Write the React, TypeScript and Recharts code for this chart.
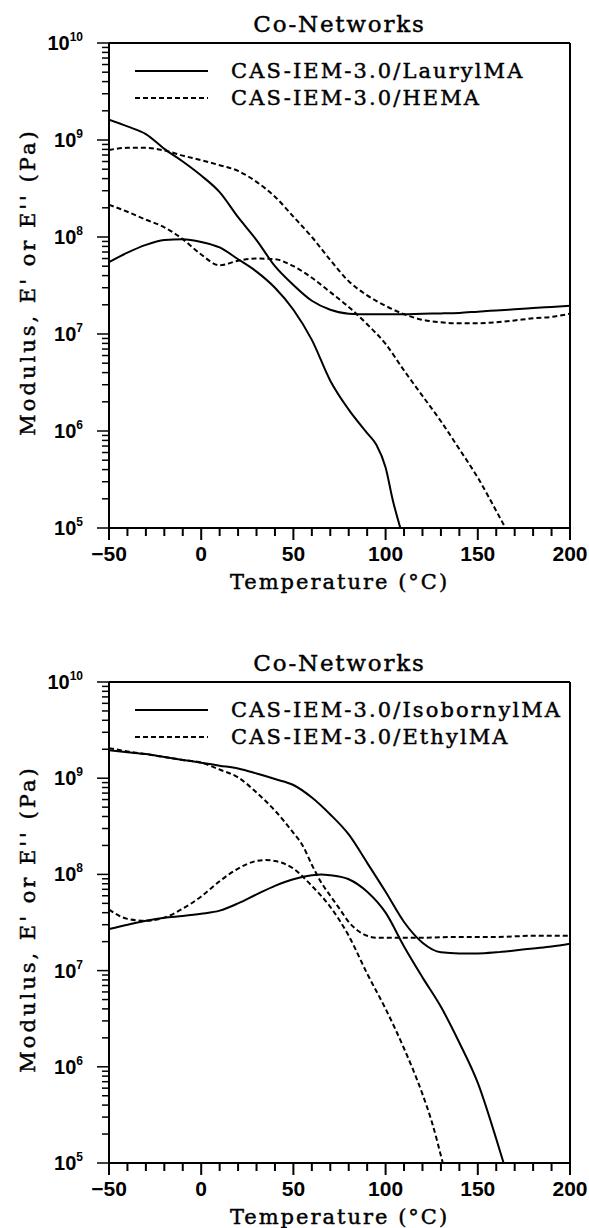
import React from "react";
import { LineChart, Line, XAxis, YAxis, ReferenceLine } from "recharts";

// axis ticks
const TEMP_MAJOR = [-50, 0, 50, 100, 150, 200];
const TEMP_MINOR = [-40, -30, -20, -10, 10, 20, 30, 40, 60, 70, 80, 90, 110, 120, 130, 140, 160, 170, 180, 190];
const DECADES = [1e5, 1e6, 1e7, 1e8, 1e9, 1e10];
const MINOR_STEPS = [2, 3, 4, 5, 6, 7, 8, 9];

// top panel: CAS-IEM-3.0 / LaurylMA (solid) and HEMA (dashed), E' and E''
const laurylStorageT = [-50, -40, -30, -20, -10, 0, 10, 20, 30, 40, 50, 60, 70, 80, 90, 100, 110, 120, 130, 140, 150, 160, 170, 180, 190, 200];
const laurylStorage = [1.62e9, 1.38e9, 1.15e9, 8.1e8, 6.0e8, 4.3e8, 2.9e8, 1.6e8, 9.3e7, 5.0e7, 3.2e7, 2.2e7, 1.78e7, 1.62e7, 1.6e7, 1.6e7, 1.6e7, 1.62e7, 1.63e7, 1.65e7, 1.7e7, 1.75e7, 1.8e7, 1.85e7, 1.9e7, 1.95e7];
const laurylLossT = [-50, -40, -30, -20, -10, 0, 10, 20, 30, 40, 50, 60, 70, 80, 90, 95, 100, 104, 108];
const laurylLoss = [5.5e7, 6.9e7, 8.3e7, 9.3e7, 9.5e7, 8.9e7, 7.8e7, 5.9e7, 4.4e7, 3.0e7, 1.78e7, 8.7e6, 3.3e6, 1.66e6, 9.5e5, 7.2e5, 4.2e5, 1.9e5, 1.0e5];
const hemaStorageT = [-50, -40, -30, -20, -10, 0, 10, 20, 30, 40, 50, 60, 70, 80, 90, 100, 110, 120, 130, 140, 150, 160, 170, 180, 190, 200];
const hemaStorage = [7.9e8, 8.3e8, 8.3e8, 7.8e8, 6.9e8, 6.2e8, 5.5e8, 4.8e8, 3.7e8, 2.6e8, 1.62e8, 1.0e8, 5.8e7, 3.5e7, 2.5e7, 1.95e7, 1.6e7, 1.4e7, 1.32e7, 1.29e7, 1.29e7, 1.32e7, 1.38e7, 1.45e7, 1.5e7, 1.62e7];
const hemaLossT = [-50, -40, -30, -20, -10, 0, 10, 20, 30, 40, 50, 60, 70, 80, 90, 100, 110, 120, 130, 140, 150, 160, 165];
const hemaLoss = [2.15e8, 1.82e8, 1.51e8, 1.26e8, 9.5e7, 6.6e7, 5.1e7, 5.7e7, 6.0e7, 5.9e7, 5.0e7, 3.8e7, 2.7e7, 1.9e7, 1.26e7, 7.9e6, 4.2e6, 2.3e6, 1.26e6, 6.5e5, 3.3e5, 1.5e5, 1.0e5];

// bottom panel: CAS-IEM-3.0 / IsobornylMA (solid) and EthylMA (dashed)
const isoStorageT = [-50, -40, -30, -20, -10, 0, 10, 20, 30, 40, 50, 60, 70, 80, 90, 100, 110, 120, 130, 140, 150, 160, 170, 180, 190, 200];
const isoStorage = [1.95e9, 1.86e9, 1.78e9, 1.66e9, 1.55e9, 1.45e9, 1.35e9, 1.26e9, 1.12e9, 9.8e8, 8.5e8, 6.3e8, 4.2e8, 2.6e8, 1.32e8, 6.6e7, 3.2e7, 1.95e7, 1.55e7, 1.51e7, 1.51e7, 1.55e7, 1.62e7, 1.7e7, 1.78e7, 1.9e7];
const isoLossT = [-50, -40, -30, -20, -10, 0, 10, 20, 30, 40, 50, 60, 65, 70, 80, 90, 100, 110, 120, 130, 140, 150, 160, 164];
const isoLoss = [2.7e7, 3.0e7, 3.3e7, 3.55e7, 3.7e7, 3.9e7, 4.2e7, 5.0e7, 6.2e7, 7.6e7, 8.9e7, 9.8e7, 1.0e8, 9.8e7, 8.9e7, 6.6e7, 4.0e7, 1.78e7, 8.5e6, 4.2e6, 1.78e6, 6.8e5, 1.78e5, 1.0e5];
const ethylStorageT = [-50, -40, -30, -20, -10, 0, 10, 20, 30, 40, 50, 55, 60, 65, 70, 75, 80, 85, 90, 95, 100, 120, 140, 160, 180, 200];
const ethylStorage = [2.05e9, 1.9e9, 1.78e9, 1.66e9, 1.55e9, 1.45e9, 1.23e9, 1.02e9, 7.1e8, 4.6e8, 2.7e8, 2.0e8, 1.26e8, 8.3e7, 6.0e7, 4.4e7, 3.2e7, 2.6e7, 2.3e7, 2.2e7, 2.2e7, 2.2e7, 2.24e7, 2.24e7, 2.3e7, 2.3e7];
const ethylLossT = [-50, -40, -30, -20, -10, 0, 10, 20, 30, 35, 40, 50, 60, 70, 80, 90, 100, 110, 120, 125, 131];
const ethylLoss = [4.3e7, 3.45e7, 3.3e7, 3.55e7, 4.4e7, 5.9e7, 8.5e7, 1.15e8, 1.38e8, 1.41e8, 1.38e8, 1.15e8, 7.6e7, 4.6e7, 2.3e7, 9.3e6, 4.0e6, 1.55e6, 5.2e5, 2.7e5, 1.0e5];

const SERIF = "'DejaVu Serif', 'Liberation Serif', serif";
const SANS = "'Liberation Sans', Arial, sans-serif";

const xTicks = [...TEMP_MAJOR, ...TEMP_MINOR].sort((a, b) => a - b);
const yTicks = DECADES.flatMap((d, i) =>
  i < DECADES.length - 1 ? [d, ...MINOR_STEPS.map((m) => m * d)] : [d]
);

function zip(ts: number[], vs: number[]) {
  return ts.map((t, i) => ({ t, v: vs[i] }));
}

function renderXTick(props: any) {
  const { x, y, payload } = props;
  const v = payload.value;
  const major = TEMP_MAJOR.includes(v);
  return (
    <g>
      <line x1={x} x2={x} y1={y} y2={y + (major ? 12 : 8)} stroke="#000" strokeWidth={2} />
      {major && (
        <text x={x} y={y + 33} textAnchor="middle" fontFamily={SANS} fontWeight="bold" fontSize={21} fill="#000">
          {v < 0 ? `\u2212${Math.abs(v)}` : String(v)}
        </text>
      )}
    </g>
  );
}

function renderYTick(props: any) {
  const { x, y, payload } = props;
  const lg = Math.log10(payload.value);
  const exp = Math.round(lg);
  const major = Math.abs(lg - exp) < 1e-6;
  return (
    <g>
      <line x1={x} x2={x - (major ? 12 : 7)} y1={y} y2={y} stroke="#000" strokeWidth={1.5} />
      {major && (
        <text x={x - 26} y={y + 7} textAnchor="end" fontFamily={SANS} fontWeight="bold" fontSize={20} fill="#000">
          10
          <tspan dy={-9} fontSize={12}>{exp}</tspan>
        </text>
      )}
    </g>
  );
}

type Series = { t: number[]; v: number[]; dashed?: boolean };

function LegendRow({ dashed, text }: { dashed?: boolean; text: string }) {
  return (
    <div style={{ display: "flex", alignItems: "center", height: 27 }}>
      <svg width={73} height={4} style={{ marginRight: 23 }}>
        <line x1={0} x2={73} y1={2} y2={2} stroke="#000" strokeWidth={2} strokeDasharray={dashed ? "5 3" : undefined} />
      </svg>
      <span>{text}</span>
    </div>
  );
}

function ModulusChart({ top, plotH, names, series }: { top: number; plotH: number; names: string[]; series: Series[] }) {
  const H = 43 + plotH + 70;
  // typewriter-ish serif, thickened a little
  const textStyle = {
    fontFamily: SERIF,
    color: "#000",
    whiteSpace: "nowrap" as const,
    WebkitTextStroke: "0.45px #000",
  };
  return (
    <div style={{ position: "absolute", left: 0, top, width: 589, height: H }}>
      <LineChart width={589} height={H} margin={{ top: 43, right: 19, bottom: 0, left: 0 }}>
        <XAxis
          dataKey="t"
          type="number"
          domain={[-50, 200]}
          ticks={xTicks}
          interval={0}
          tick={renderXTick}
          tickLine={false}
          tickSize={0}
          tickMargin={0}
          height={70}
          axisLine={{ stroke: "#000", strokeWidth: 2 }}
          allowDataOverflow
        />
        <YAxis
          type="number"
          scale="log"
          domain={[1e5, 1e10]}
          ticks={yTicks}
          interval={0}
          tick={renderYTick}
          tickLine={false}
          tickSize={0}
          tickMargin={0}
          width={109}
          axisLine={{ stroke: "#000", strokeWidth: 2 }}
          allowDataOverflow
        />
        <ReferenceLine y={1e10} stroke="#000" strokeWidth={2} />
        <ReferenceLine x={200} stroke="#000" strokeWidth={2} />
        {series.map((s, i) => (
          <Line
            key={i}
            data={zip(s.t, s.v)}
            dataKey="v"
            type="monotone"
            stroke="#000"
            strokeWidth={2}
            strokeDasharray={s.dashed ? "5 3" : undefined}
            dot={false}
            activeDot={false}
            isAnimationActive={false}
          />
        ))}
      </LineChart>
      <div style={{ ...textStyle, position: "absolute", left: 109, width: 461, top: 9, lineHeight: "30px", fontSize: 23, letterSpacing: 1.8, textAlign: "center" }}>
        Co-Networks
      </div>
      <div style={{ ...textStyle, position: "absolute", left: 135, top: 57, fontSize: 21, letterSpacing: 2.1 }}>
        <LegendRow text={names[0]} />
        <LegendRow text={names[1]} dashed />
      </div>
      <div
        style={{
          ...textStyle,
          position: "absolute",
          left: 28,
          top: 43 + plotH / 2 - 4,
          fontSize: 21,
          letterSpacing: 3,
          transform: "translate(-50%, -50%) rotate(-90deg)",
        }}
      >
        Modulus, E' or E'' (Pa)
      </div>
      <div style={{ ...textStyle, position: "absolute", left: 109, width: 461, top: 43 + plotH + 39, lineHeight: "30px", fontSize: 21, letterSpacing: 2, textAlign: "center" }}>
        Temperature (°C)
      </div>
    </div>
  );
}

const topSeries: Series[] = [
  { t: laurylStorageT, v: laurylStorage },
  { t: laurylLossT, v: laurylLoss },
  { t: hemaStorageT, v: hemaStorage, dashed: true },
  { t: hemaLossT, v: hemaLoss, dashed: true },
];

const bottomSeries: Series[] = [
  { t: isoStorageT, v: isoStorage },
  { t: isoLossT, v: isoLoss },
  { t: ethylStorageT, v: ethylStorage, dashed: true },
  { t: ethylLossT, v: ethylLoss, dashed: true },
];

export default function App() {
  return (
    <div style={{ background: "#fff" }}>
      <ModulusChart top={0} plotH={485} names={["CAS-IEM-3.0/LaurylMA", "CAS-IEM-3.0/HEMA"]} series={topSeries} />
      <ModulusChart top={639} plotH={481} names={["CAS-IEM-3.0/IsobornylMA", "CAS-IEM-3.0/EthylMA"]} series={bottomSeries} />
    </div>
  );
}
